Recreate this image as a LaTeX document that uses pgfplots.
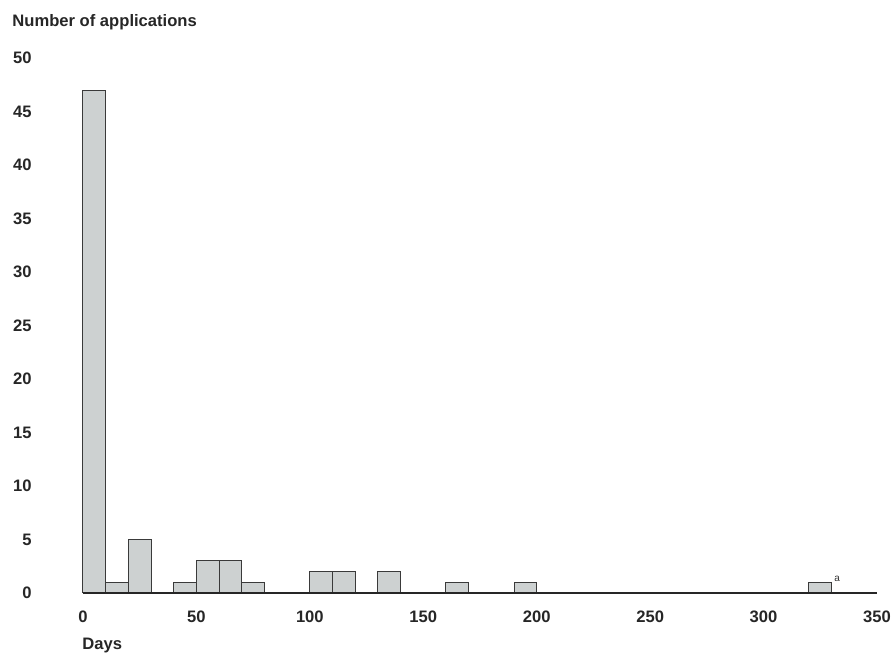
\documentclass[border=0pt]{standalone}
\usepackage{fontspec}
\setmainfont{Liberation Sans}
\usepackage{pgfplots}
\pgfplotsset{compat=1.18}
\definecolor{barfill}{HTML}{CDD1D1}
\definecolor{baredge}{HTML}{3A3A3A}
\begin{document}
\begin{tikzpicture}
\path[use as bounding box] (-41.5pt,-32pt) rectangle (406pt,296.5pt);
\begin{axis}[
  scale only axis,
  width=397pt, height=267.5pt,
  xmin=0, xmax=350, ymin=0, ymax=50,
  axis on top,
  clip=false,
  axis x line=bottom,
  axis y line*=left,
  y axis line style={draw=none},
  x axis line style={-, line width=1.3pt, black!85},
  xtick={0,50,...,350},
  ytick={0,5,...,50},
  tick style={draw=none},
  /pgf/number format/assume math mode=true,
  xticklabel style={font=\fontsize{8.3}{10}\selectfont\bfseries, text=black!85, anchor=north, inner sep=0pt, yshift=-6.5pt},
  yticklabel style={font=\fontsize{8.3}{10}\selectfont\bfseries, text=black!85, anchor=east, inner sep=0pt, xshift=-25.5pt},
  xlabel={Days},
  xlabel style={font=\fontsize{8.3}{10}\selectfont\bfseries, text=black!85, at={(rel axis cs:0,0)}, anchor=base west, inner sep=0pt, yshift=-28.5pt, xshift=-0.5pt},
]
\addplot[ybar, bar width=10, bar shift=0, fill=barfill, draw=baredge, line width=0.5pt]
coordinates {
(5,47) (15,1) (25,5) (45,1) (55,3) (65,3) (75,1)
(105,2) (115,2) (135,2) (165,1) (195,1) (325,1)
};
\node[anchor=base west, inner sep=0pt, text=black!85, font=\fontsize{8.3}{10}\selectfont\bfseries] at ([xshift=-35.5pt,yshift=15.5pt]rel axis cs:0,1) {Number of applications};
\node[anchor=south west, inner sep=0pt, text=black!80, font=\fontsize{5}{6}\selectfont] at (axis cs:331,1) {a};
\end{axis}
\end{tikzpicture}
\end{document}
